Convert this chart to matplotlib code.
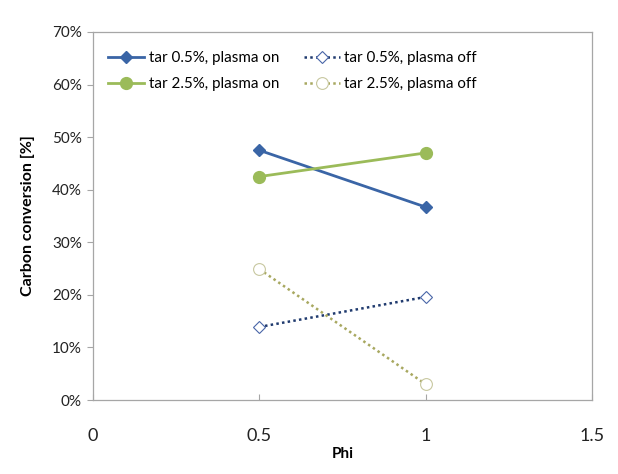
import matplotlib.pyplot as plt
from matplotlib.ticker import PercentFormatter

plt.rcParams['font.family'] = ['Lato', 'DejaVu Sans']

# --- data ---
phi = [0.5, 1.0]
tar05_on = [47.5, 36.7]
tar05_off = [13.9, 19.6]
tar25_on = [42.5, 47.0]
tar25_off = [24.9, 3.0]

x_ticks = [0, 0.5, 1, 1.5]
x_tick_labels = ['0', '0.5', '1', '1.5']
y_ticks = [0, 10, 20, 30, 40, 50, 60, 70]

fig = plt.figure(figsize=(6.18, 4.74), dpi=100)
ax = fig.add_axes([0.1505, 0.1561, 0.8075, 0.7764])

l1, = ax.plot(phi, tar05_on, color='#3A65A6', lw=2, marker='D', ms=6.5,
              label='tar 0.5%, plasma on')
l2, = ax.plot(phi, tar05_off, color='#1F3A6E', lw=1.8, ls=(0, (1, 1.3)), marker='D', ms=6.5,
              mfc='white', mec='#4A66A8', mew=0.8, label='tar 0.5%, plasma off')
l3, = ax.plot(phi, tar25_on, color='#9BBB59', lw=2, marker='o', ms=8.5,
              label='tar 2.5%, plasma on')
l4, = ax.plot(phi, tar25_off, color='#A8A860', lw=1.8, ls=(0, (1, 1.3)), marker='o', ms=8.5,
              mfc='white', mec='#C8C8A0', mew=0.8, label='tar 2.5%, plasma off')

ax.set_xlim(0, 1.5)
ax.set_ylim(0, 70)
ax.set_xticks(x_ticks)
ax.set_xticklabels(x_tick_labels)
ax.set_yticks(y_ticks)
ax.yaxis.set_major_formatter(PercentFormatter(decimals=0))

for s in ax.spines.values():
    s.set_color('#A6A6A6')
    s.set_linewidth(0.9)
ax.tick_params(axis='x', direction='in', length=4, color='#A6A6A6',
               labelsize=13, pad=20, labelcolor='#222222')
ax.tick_params(axis='y', direction='out', length=4, color='#A6A6A6',
               labelsize=11, pad=4, labelcolor='#222222')

ax.set_xlabel('Phi', fontsize=11, fontweight='bold', labelpad=2)
ax.set_ylabel('Carbon conversion [%]', fontsize=11.5, fontweight='bold', labelpad=12)

# column-first filling: keep rows as in the reference
ax.legend([l1, l3, l2, l4], [l.get_label() for l in (l1, l3, l2, l4)],
          loc='upper left', ncol=2, frameon=False, fontsize=10.9,
          handlelength=2.4, handletextpad=0.3, columnspacing=1.6,
          borderaxespad=0.6, labelspacing=0.8, bbox_to_anchor=(0.0, 0.99))

fig.savefig('out.png', dpi=100)
